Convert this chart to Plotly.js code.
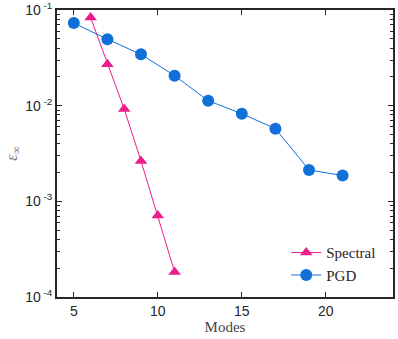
<!DOCTYPE html>
<html>
<head>
<meta charset="utf-8">
<script src="https://cdn.plot.ly/plotly-3.0.1.min.js"></script>
<style>
  html, body { margin: 0; padding: 0; background: #fff; }
  #chart { width: 398px; height: 339px; }
</style>
</head>
<body>
<div id="chart"></div>
<script>
// error vs number of modes
var spectralModes = [6, 7, 8, 9, 10, 11];
var spectralErr = [0.0835, 0.0271, 0.00925, 0.00264, 0.000713, 0.000183];

var pgdModes = [5, 7, 9, 11, 13, 15, 17, 19, 21];
var pgdErr = [0.0731, 0.0494, 0.0344, 0.0206, 0.01127, 0.00824, 0.00575, 0.00213, 0.00186];

var xTicks = [5, 10, 15, 20];
var yTicks = [1e-4, 1e-3, 1e-2, 1e-1];
var yTickText = ['10<sup> -4</sup>', '10<sup> -3</sup>', '10<sup> -2</sup>', '10<sup> -1</sup>'];

// minor ticks at 2..9 of each decade
var minorVals = [];
for (var d = 0; d < yTicks.length - 1; d++) {
	for (var k = 2; k < 10; k++) {
		minorVals.push(yTicks[d] * k);
	}
}

var axisColor = '#262626';
var serif = 'Liberation Serif, DejaVu Serif, serif';
var sans = 'Liberation Sans, Arial, sans-serif';

var data = [
	{
		x: spectralModes,
		y: spectralErr,
		name: 'Spectral',
		type: 'scatter',
		mode: 'lines+markers',
		line: { color: '#EA1E8C', width: 1 },
		marker: { symbol: 'triangle-up', size: 11, color: '#EA1E8C' },
	},
	{
		x: pgdModes,
		y: pgdErr,
		name: 'PGD',
		type: 'scatter',
		mode: 'lines+markers',
		line: { color: '#1170D8', width: 1 },
		marker: { symbol: 'circle', size: 12, color: '#1170D8' },
	},
];

var layout = {
	width: 398,
	height: 339,
	margin: { l: 57, r: 5, t: 10, b: 42 },
	paper_bgcolor: '#fff',
	plot_bgcolor: '#fff',
	showlegend: true,
	legend: {
		x: 0.965,
		y: 0.02,
		xanchor: 'right',
		yanchor: 'bottom',
		bgcolor: 'rgba(0,0,0,0)',
		font: { family: serif, size: 15, color: axisColor },
		tracegroupgap: 0,
		itemwidth: 30,
	},
	xaxis: {
		range: [4, 24],
		tickmode: 'array',
		tickvals: xTicks,
		ticks: 'inside',
		ticklen: 5,
		tickwidth: 1,
		tickcolor: axisColor,
		showline: true,
		linecolor: axisColor,
		linewidth: 2,
		mirror: 'ticks',
		showgrid: false,
		zeroline: false,
		tickfont: { family: sans, size: 14, color: axisColor },
		title: {
			text: 'Modes',
			font: { family: serif, size: 15, color: '#444' },
			standoff: 2,
		},
	},
	yaxis: {
		type: 'log',
		range: [-4, -1],
		tickmode: 'array',
		tickvals: yTicks,
		ticktext: yTickText,
		ticks: 'inside',
		ticklen: 5,
		tickwidth: 1,
		tickcolor: axisColor,
		showline: true,
		linecolor: axisColor,
		linewidth: 2,
		mirror: 'ticks',
		showgrid: false,
		zeroline: false,
		tickfont: { family: sans, size: 14, color: axisColor },
		minor: {
			tickmode: 'array',
			tickvals: minorVals,
			ticks: 'inside',
			ticklen: 3,
			tickwidth: 1,
			tickcolor: axisColor,
			showgrid: false,
		},
		title: {
			text: '<i>ε</i><sub>∞</sub>',
			font: { family: serif, size: 16, color: '#777' },
			standoff: 4,
		},
	},
};

Plotly.newPlot('chart', data, layout, { displayModeBar: false, staticPlot: true });
</script>
</body>
</html>
